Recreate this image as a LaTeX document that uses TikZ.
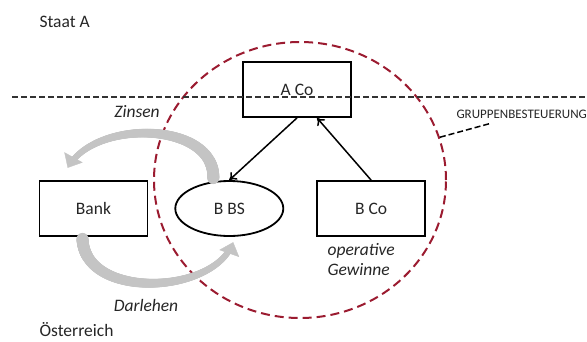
\documentclass[tikz,border=0pt]{standalone}
\usepackage{fontspec}
\setmainfont{Carlito}
\usetikzlibrary{positioning, shapes.geometric, arrows.meta, decorations.markings}
\definecolor{gruppenrot}{RGB}{155,27,48}
\definecolor{pfeilgrau}{RGB}{196,196,196}
\tikzset{
firma/.style={draw, line width=1.8pt, minimum width=108pt, minimum height=55pt, inner sep=0pt, font=\fontsize{17.5}{20}\selectfont, text=black!85}, % the company boxes
zweig/.style={firma, ellipse}, % the branch is an ellipse
beteiligung/.style={line width=1.5pt, -{To[length=7pt,width=10pt]}}, % black arrows between the companies
fluss/.style={decoration={markings,
  mark=between positions 0 and 0.95 step 0.5pt with {\pgfmathsetmacro\rad{6-3.3*\pgfkeysvalueof{/pgf/decoration/mark info/distance from start}/\pgfdecoratedpathlength}\fill[pfeilgrau] (0,0) circle (\rad pt);},
  mark=at position 0.99 with {\arrow[pfeilgrau]{Triangle[width=21pt,length=12pt]}}},
  postaction={decorate}}, % grey tapered arrows
beschrift/.style={font=\fontsize{17.5}{20}\selectfont\itshape, text=black!85}, % italic labels
land/.style={font=\fontsize{17.5}{20}\selectfont, text=black!85, anchor=west}, % country names
}

\begin{document}
\begin{tikzpicture}[x=1pt, y=-1pt]
        \useasboundingbox (0,0) rectangle (587,341);
        % group circle
        \node[ellipse, draw=gruppenrot, line width=2pt, dash pattern=on 9pt off 5pt, minimum width=292pt, minimum height=276pt] (grp) at (300,180) {};
        % companies
        \node[firma] (bank) at (93.5,208.5) {Bank};
        \node[zweig, right=26pt of bank] (bbs) {B BS};
        \node[firma, right=32pt of bbs] (bco) {B Co};
        \node[firma] (aco) at (297,89.5) {A Co};
        % border between the states
        \coordinate (grenzeL) at (12,97);
        \coordinate (grenzeR) at (587,97);
        \draw[line width=1.5pt, black!80, dash pattern=on 6pt off 3pt] (grenzeL) -- (grenzeR);
        \node[land] (staat) at (36,22) {Staat A};
        \node[land] (oest) at (36,330) {Österreich};
        % arrows
        \draw[beteiligung] (aco.south) -- (bbs.north);
        \draw[beteiligung] (bco.north) -- ([xshift=20pt]aco.south);
        \path[fluss] ([xshift=-16pt, yshift=2pt]bbs.north) .. controls (215,122) and (95,118) .. ([xshift=-26pt, yshift=12pt]bank.north);
        \path[fluss] ([xshift=-11pt, yshift=-2pt]bank.south) .. controls (85,300) and (215,295) .. ([xshift=4pt, yshift=-5pt]bbs.south);
        \node[beschrift] (zins) at (137,112) {Zinsen};
        \node[beschrift] (darl) at (146,305) {Darlehen};
        \node[beschrift, anchor=north west, align=left] (gewinn) at (324,240) {operative\\Gewinne};
        % label of the group
        \node[font=\fontsize{13}{14}\selectfont, text=black!85, anchor=west] (gruppe) at (453,114) {GRUPPENBESTEUERUNG};
        \draw[line width=1.5pt, dash pattern=on 6pt off 3pt] (grp.17) -- ([xshift=36pt, yshift=-2pt]gruppe.south west);
\end{tikzpicture}
\end{document}
